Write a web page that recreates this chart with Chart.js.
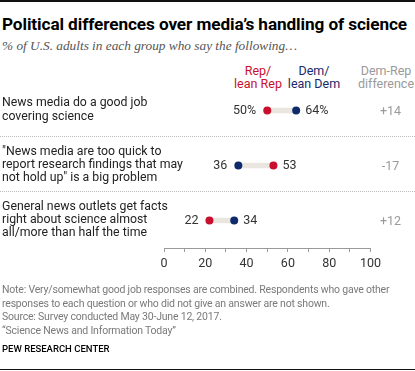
<!DOCTYPE html>
<html>
<head>
<meta charset="utf-8">
<script src="https://cdn.jsdelivr.net/npm/chart.js@4.4.1/dist/chart.umd.min.js"></script>
<style>
  html, body { margin: 0; padding: 0; background: #fff; }
  #wrap { position: relative; width: 415px; height: 371px; overflow: hidden; font-family: Roboto, "Liberation Sans", sans-serif; }
  #chart { position: absolute; left: 0; top: 0; }
  .rule { position: absolute; left: 0; width: 415px; height: 1.5px; background: #111; }
  .txt { position: absolute; white-space: nowrap; }
  #title { left: 2px; top: 14px; font-size: 17.2px; font-weight: 700; color: #000; letter-spacing: -0.1px; }
  #subtitle { left: 2px; top: 38px; font-family: "Liberation Serif", "DejaVu Serif", serif; font-style: italic; font-size: 13.3px; color: #555; }
  .head { position: absolute; width: 90px; text-align: center; font-size: 12.5px; line-height: 13.4px; top: 64px; }
  #notes { left: 2px; top: 283px; font-size: 10.5px; line-height: 13.5px; color: #7a7a7a; letter-spacing: -0.2px; }
  #source { left: 2px; top: 343px; font-size: 9.5px; font-weight: 500; color: #000; }
</style>
</head>
<body>
<div id="wrap">
  <div class="rule" style="top:0"></div>
  <div id="title" class="txt">Political differences over media’s handling of science</div>
  <div id="subtitle" class="txt">% of U.S. adults in each group who say the following…</div>
  <div class="head" style="left:213px;color:#c8102e">Rep/<br>lean Rep</div>
  <div class="head" style="left:269px;color:#1b2a6b">Dem/<br>lean Dem</div>
  <div class="head" style="left:341px;color:#9a9a9a">Dem-Rep<br>difference</div>
  <canvas id="chart" width="415" height="371"></canvas>
  <div id="notes" class="txt">Note: Very/somewhat good job responses are combined. Respondents who gave other<br>responses to each question or who did not give an answer are not shown.<br>Source: Survey conducted May 30-June 12, 2017.<br>“Science News and Information Today”</div>
  <div id="source" class="txt">PEW RESEARCH CENTER</div>
  <div class="rule" style="top:368.5px"></div>
</div>
<script>
const categories = [
  ["News media do a good job", "covering science"],
  ["\"News media are too quick to", "report research findings that may", "not hold up\" is a big problem"],
  ["General news outlets get facts", "right about science almost", "all/more than half the time"]
];
const repValues = [50, 53, 22];
const demValues = [64, 36, 34];
const valueSuffix = ["%", "", ""];
const xTickLabels = [0, 20, 40, 60, 80, 100];

const RED = "#c8102e";
const NAVY = "#0d2b6b";
const FONT = "Roboto, 'Liberation Sans', sans-serif";

// row labels, separators, value labels and difference column
const annotate = {
  id: "annotate",
  beforeDatasetsDraw(chart) {
    const { ctx } = chart;
    const y = chart.scales.y;
    ctx.save();
    ctx.strokeStyle = "#bdbdbd";
    ctx.lineWidth = 1;
    ctx.setLineDash([1, 1]);
    for (let i = 0; i < categories.length - 1; i++) {
      const yy = Math.round((y.getPixelForValue(i) + y.getPixelForValue(i + 1)) / 2) - 1.5;
      ctx.beginPath();
      ctx.moveTo(0, yy);
      ctx.lineTo(chart.width, yy);
      ctx.stroke();
    }
    ctx.setLineDash([]);
    ctx.font = "12.3px " + FONT;
    ctx.fillStyle = "#222";
    ctx.textAlign = "left";
    ctx.textBaseline = "middle";
    const lh = 13.35;
    categories.forEach((lines, i) => {
      const cy = y.getPixelForValue(i) - 0.5;
      lines.forEach((t, k) => {
        ctx.fillText(t, 2, cy + (k - (lines.length - 1) / 2) * lh);
      });
    });
    ctx.restore();
  },
  afterDatasetsDraw(chart) {
    const { ctx } = chart;
    const rep = chart.getDatasetMeta(0).data;
    const dem = chart.getDatasetMeta(1).data;
    ctx.save();
    ctx.font = "12.5px " + FONT;
    ctx.textBaseline = "middle";
    categories.forEach((c, i) => {
      const repLow = repValues[i] <= demValues[i];
      const lo = repLow ? rep[i] : dem[i];
      const hi = repLow ? dem[i] : rep[i];
      const loVal = repLow ? repValues[i] : demValues[i];
      const hiVal = repLow ? demValues[i] : repValues[i];
      ctx.fillStyle = "#333";
      ctx.textAlign = "right";
      ctx.fillText(loVal + valueSuffix[i], lo.x - 11, lo.y + 0.5);
      ctx.textAlign = "left";
      ctx.fillText(hiVal + valueSuffix[i], hi.x + 9, hi.y + 0.5);
      const d = demValues[i] - repValues[i];
      ctx.fillStyle = "#9a9a9a";
      ctx.textAlign = "center";
      ctx.fillText((d > 0 ? "+" : "") + d, 390.5, lo.y + 1.5);
    });
    ctx.restore();
  }
};

new Chart(document.getElementById("chart").getContext("2d"), {
  type: "bar",
  data: {
    labels: categories,
    datasets: [
      {
        type: "line",
        label: "Rep/lean Rep",
        data: repValues,
        showLine: false,
        pointRadius: 4,
        pointBorderWidth: 0,
        pointBackgroundColor: RED,
        order: 0
      },
      {
        type: "line",
        label: "Dem/lean Dem",
        data: demValues,
        showLine: false,
        pointRadius: 4,
        pointBorderWidth: 0,
        pointBackgroundColor: NAVY,
        order: 0
      },
      {
        type: "bar",
        label: "range",
        data: categories.map((c, i) => [repValues[i], demValues[i]]),
        backgroundColor: "#e9e5df",
        barThickness: 5,
        borderSkipped: false,
        order: 2
      }
    ]
  },
  options: {
    indexAxis: "y",
    responsive: false,
    animation: false,
    devicePixelRatio: 1,
    layout: { padding: { left: 164, right: 44.5, top: 83, bottom: 93 } },
    plugins: { legend: { display: false }, tooltip: { enabled: false } },
    scales: {
      x: {
        type: "linear",
        min: 0,
        max: 100,
        position: "bottom",
        ticks: {
          stepSize: 10,
          autoSkip: false,
          maxRotation: 0,
          color: "#333",
          font: { family: FONT, size: 12.5 },
          padding: 4,
          callback: v => xTickLabels.includes(v) ? String(v) : ""
        },
        grid: { drawOnChartArea: false, drawTicks: true, tickLength: 4, color: "#9a9a9a" },
        border: { color: "#9a9a9a" },
        afterFit: s => { s.height = 30; }
      },
      y: {
        type: "category",
        display: false,
        offset: true
      }
    }
  },
  plugins: [annotate]
});
</script>
</body>
</html>
